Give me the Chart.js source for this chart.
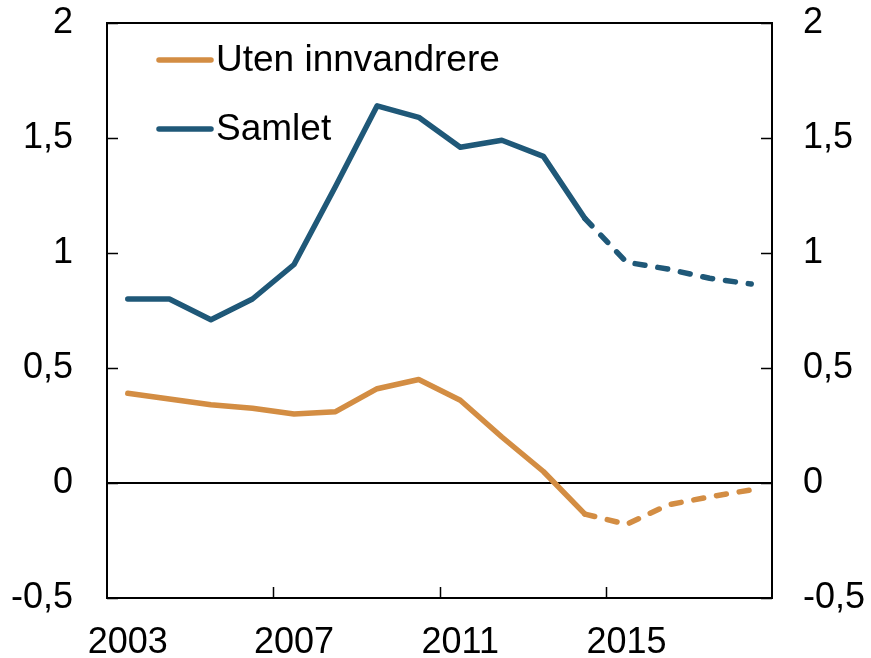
<!DOCTYPE html>
<html>
<head>
<meta charset="utf-8">
<script src="https://cdn.jsdelivr.net/npm/chart.js@4/dist/chart.umd.min.js"></script>
<style>
  body { margin: 0; background: #fff; }
  #wrap { width: 871px; height: 658px; }
</style>
</head>
<body>
<div id="wrap"><canvas id="chart"></canvas></div>
<script>
var years = ['2003', '2004', '2005', '2006', '2007', '2008', '2009', '2010',
             '2011', '2012', '2013', '2014', '2015', '2016', '2017', '2018'];
var utenInnvandrere = [0.39, 0.365, 0.34, 0.325, 0.30, 0.31, 0.41, 0.45,
                       0.36, 0.20, 0.05, -0.135, -0.18, -0.095, -0.06, -0.03];
var samlet = [0.80, 0.80, 0.71, 0.80, 0.95, 1.29, 1.64, 1.59,
              1.46, 1.49, 1.42, 1.15, 0.96, 0.93, 0.89, 0.865];
var yTicks = [-0.5, 0, 0.5, 1, 1.5, 2];
var firstForecast = 11; // dashed from 2014 on

var orange = '#d38d43';
var blue = '#1f5878';
var FONT = 'Liberation Sans, Arial, sans-serif';

function dashed(ctx) {
    return ctx.p0DataIndex >= firstForecast ? [10, 13] : undefined;
}

function comma(v) {
    return String(v).replace('.', ',');
}

function noPad(s) {
    s.paddingTop = 0; s.paddingBottom = 0;
    s.paddingLeft = 0; s.paddingRight = 0;
}

// frame, inward tick marks, zero line and legend
var extras = {
    id: 'extras',
    beforeDatasetsDraw: function (chart) {
        var c = chart.ctx, a = chart.chartArea;
        var y = chart.scales.y;
        c.save();
        c.strokeStyle = '#000';
        c.lineWidth = 2;
        var y0 = Math.round(y.getPixelForValue(0));
        c.beginPath();
        c.moveTo(a.left, y0);
        c.lineTo(a.right, y0);
        c.stroke();
        c.restore();
    },
    afterDraw: function (chart) {
        var c = chart.ctx, a = chart.chartArea;
        var y = chart.scales.y, x = chart.scales.x;
        c.save();
        c.strokeStyle = '#000';
        c.lineWidth = 2;
        c.strokeRect(a.left, a.top, a.right - a.left, a.bottom - a.top);
        c.lineWidth = 1.5;
        c.beginPath();
        yTicks.forEach(function (v) {
            var p = Math.round(y.getPixelForValue(v)) + 0.5;
            c.moveTo(a.left, p); c.lineTo(a.left + 11, p);
            c.moveTo(a.right, p); c.lineTo(a.right - 11, p);
        });
        for (var i = 4; i < years.length; i += 4) {
            var px = Math.round((x.getPixelForValue(i - 1) + x.getPixelForValue(i)) / 2) + 0.5;
            c.moveTo(px, a.bottom); c.lineTo(px, a.bottom - 11);
        }
        c.stroke();

        // legend
        c.font = '37px ' + FONT;
        c.textBaseline = 'middle';
        c.lineCap = 'round';
        chart.data.datasets.forEach(function (ds, k) {
            var ly = a.top + 37 + k * 69;
            c.strokeStyle = ds.borderColor;
            c.lineWidth = 5.5;
            c.beginPath();
            c.moveTo(a.left + 52, ly);
            c.lineTo(a.left + 104, ly);
            c.stroke();
            c.fillStyle = '#000';
            c.fillText(ds.label, a.left + 109, ly + 1);
        });
        c.restore();
    }
};

new Chart(document.getElementById('chart').getContext('2d'), {
    type: 'line',
    data: {
        labels: years,
        datasets: [{
            label: 'Uten innvandrere',
            data: utenInnvandrere,
            borderColor: orange,
            borderWidth: 5.5,
            borderCapStyle: 'round',
            borderJoinStyle: 'round',
            pointRadius: 0,
            tension: 0,
            segment: { borderDash: dashed }
        }, {
            label: 'Samlet',
            data: samlet,
            borderColor: blue,
            borderWidth: 5.5,
            borderCapStyle: 'round',
            borderJoinStyle: 'round',
            pointRadius: 0,
            tension: 0,
            segment: { borderDash: dashed }
        }]
    },
    options: {
        responsive: true,
        maintainAspectRatio: false,
        animation: false,
        events: [],
        layout: { padding: { top: 23 } },
        plugins: {
            legend: { display: false },
            tooltip: { enabled: false }
        },
        scales: {
            x: {
                offset: true,
                grid: { display: false, drawTicks: false },
                border: { display: false },
                afterFit: function (s) { s.height = 60; noPad(s); },
                ticks: {
                    autoSkip: false,
                    maxRotation: 0,
                    padding: 23,
                    color: '#000',
                    font: { size: 36, family: FONT },
                    callback: function (v, i) { return i % 4 === 0 ? years[i] : ''; }
                }
            },
            y: {
                position: 'left',
                min: -0.5,
                max: 2,
                grid: { display: false, drawTicks: false },
                border: { display: false },
                afterFit: function (s) { s.width = 107; noPad(s); },
                ticks: {
                    stepSize: 0.5,
                    padding: 34,
                    color: '#000',
                    font: { size: 36, family: FONT },
                    callback: comma
                }
            },
            y2: {
                position: 'right',
                min: -0.5,
                max: 2,
                grid: { display: false, drawTicks: false },
                border: { display: false },
                afterFit: function (s) { s.width = 99; noPad(s); },
                ticks: {
                    stepSize: 0.5,
                    padding: 31,
                    color: '#000',
                    font: { size: 36, family: FONT },
                    callback: comma
                }
            }
        }
    },
    plugins: [extras]
});
</script>
</body>
</html>
